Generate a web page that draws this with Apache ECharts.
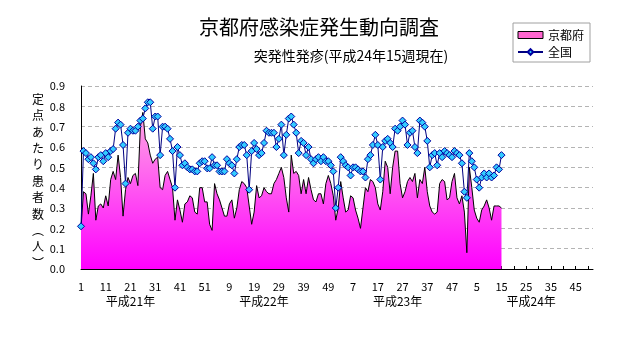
<!DOCTYPE html>
<html><head><meta charset="utf-8">
<script src="https://cdn.jsdelivr.net/npm/echarts@6/dist/echarts.min.js"></script>
<style>html,body{margin:0;padding:0;background:#fff}#c{width:632px;height:348px}</style>
</head><body><div id="c"></div>
<script>
const titleText = "京都府感染症発生動向調査";
const subtitleText = "突発性発疹(平成24年15週現在)";
const yAxisTitle = "定点あたり患者数︵人︶";
const seriesNames = ["京都府", "全国"];
const weeksPerYear = [52, 52, 52, 52];
const yearLabels = ["平成21年", "平成22年", "平成23年", "平成24年"];
const yearLabelIndex = [20, 74, 128, 182];

const kyoto = [
0.20,0.38,0.37,0.27,0.36,0.47,0.24,0.31,0.32,0.30,
0.36,0.31,0.44,0.48,0.44,0.56,0.45,0.26,0.39,0.45,
0.42,0.46,0.47,0.41,0.70,0.77,0.64,0.62,0.56,0.52,
0.54,0.55,0.40,0.39,0.46,0.48,0.44,0.40,0.24,0.34,
0.29,0.23,0.32,0.33,0.36,0.35,0.28,0.27,0.40,0.40,
0.33,0.33,0.22,0.19,0.42,0.37,0.34,0.30,0.26,0.26,
0.32,0.34,0.25,0.30,0.39,0.43,0.42,0.40,0.31,0.22,
0.28,0.41,0.35,0.36,0.40,0.38,0.37,0.37,0.42,0.44,
0.47,0.50,0.45,0.35,0.28,0.56,0.47,0.48,0.46,0.37,
0.44,0.37,0.45,0.39,0.34,0.33,0.37,0.37,0.32,0.42,
0.46,0.42,0.36,0.24,0.30,0.43,0.35,0.28,0.29,0.36,
0.35,0.29,0.25,0.20,0.30,0.40,0.38,0.44,0.43,0.40,
0.32,0.29,0.38,0.53,0.50,0.37,0.50,0.58,0.58,0.42,
0.35,0.38,0.43,0.45,0.43,0.47,0.35,0.44,0.42,0.50,
0.38,0.31,0.28,0.27,0.28,0.42,0.44,0.43,0.34,0.35,
0.43,0.47,0.35,0.32,0.36,0.28,0.08,0.50,0.40,0.29,
0.25,0.23,0.29,0.31,0.34,0.30,0.24,0.31,0.31,0.31,
0.30
];
const zenkoku = [
0.21,0.58,0.57,0.54,0.55,0.52,0.49,0.55,0.56,0.53,
0.57,0.55,0.58,0.59,0.69,0.72,0.71,0.61,0.42,0.67,
0.69,0.68,0.68,0.70,0.73,0.74,0.79,0.82,0.82,0.69,
0.75,0.75,0.56,0.70,0.70,0.69,0.64,0.58,0.40,0.60,
0.56,0.51,0.52,0.50,0.49,0.49,0.48,0.48,0.52,0.53,
0.53,0.495,0.495,0.55,0.51,0.51,0.48,0.48,0.48,0.54,
0.52,0.51,0.47,0.54,0.60,0.61,0.61,0.56,0.39,0.58,
0.62,0.59,0.56,0.57,0.62,0.68,0.67,0.67,0.67,0.60,
0.64,0.71,0.56,0.66,0.74,0.75,0.71,0.67,0.57,0.63,
0.62,0.56,0.60,0.54,0.52,0.54,0.55,0.53,0.55,0.53,
0.53,0.51,0.48,0.30,0.40,0.55,0.53,0.51,0.50,0.46,
0.50,0.50,0.49,0.48,0.48,0.45,0.54,0.56,0.61,0.66,
0.61,0.44,0.60,0.63,0.64,0.62,0.60,0.69,0.68,0.70,
0.73,0.71,0.61,0.67,0.68,0.60,0.57,0.73,0.72,0.70,
0.63,0.50,0.56,0.57,0.51,0.57,0.55,0.58,0.57,0.56,
0.55,0.58,0.57,0.56,0.52,0.38,0.35,0.57,0.53,0.50,
0.44,0.40,0.45,0.47,0.45,0.47,0.45,0.46,0.50,0.49,
0.56
];

const categories = [];
weeksPerYear.forEach(n => { for (let w = 1; w <= n; w++) categories.push(String(w)); });
const yearCats = categories.map((c, i) => {
  const k = yearLabelIndex.indexOf(i);
  return k >= 0 ? yearLabels[k] : '';
});

const FONT = '"Noto Sans CJK JP", "MS Gothic", sans-serif';
const chart = echarts.init(document.getElementById('c'), null, {renderer: 'canvas'});
chart.setOption({
  animation: false,
  backgroundColor: '#fff',
  textStyle: {fontFamily: FONT, color: '#000'},
  title: [
    {text: titleText, left: 314, textAlign: 'center', top: 12,
     textStyle: {fontSize: 20, fontWeight: 'normal', color: '#000', fontFamily: FONT}},
    {text: subtitleText, left: 346, textAlign: 'center', top: 44,
     textStyle: {fontSize: 14, fontWeight: 'normal', color: '#000', fontFamily: FONT}}
  ],
  legend: {
    orient: 'vertical', left: 513, top: 23,
    padding: [6, 6, 4, 4], itemGap: 5, itemWidth: 25, itemHeight: 7,
    borderColor: '#a0a0a0', borderWidth: 1,
    textStyle: {fontSize: 12, color: '#000', fontFamily: FONT},
    data: [
      {name: seriesNames[0], icon: 'rect', itemStyle: {color: '#FF66D0', borderColor: '#000', borderWidth: 1}},
      {name: seriesNames[1]}
    ]
  },
  grid: {left: 81, right: 39, top: 86, bottom: 79, containLabel: false},
  xAxis: [{
    type: 'category', data: categories, boundaryGap: false,
    axisLine: {lineStyle: {color: '#000', width: 1}},
    axisTick: {show: true, inside: true, length: 3, interval: 4, lineStyle: {color: '#000'}},
    axisLabel: {interval: 9, margin: 12, fontSize: 11, color: '#000', fontFamily: FONT},
    splitLine: {show: false}
  }, {
    type: 'category', data: yearCats, boundaryGap: false, position: 'bottom',
    axisLine: {show: false}, axisTick: {show: false},
    axisLabel: {interval: (i) => yearLabelIndex.indexOf(i) >= 0, margin: 26, fontSize: 12, color: '#000', fontFamily: FONT},
    splitLine: {show: false}
  }],
  yAxis: {
    type: 'value', min: 0, max: 0.9, interval: 0.1,
    axisLine: {show: true, lineStyle: {color: '#000', width: 1}},
    axisTick: {show: false},
    axisLabel: {formatter: v => v.toFixed(1), margin: 16, fontSize: 11, color: '#000', fontFamily: FONT},
    splitLine: {show: true, lineStyle: {color: '#b4b4b4', type: [4, 3], width: 1}}
  },
  graphic: [{
    type: 'text', x: 38, y: 91,
    style: {text: yAxisTitle.split('').join('\n'), font: '12px ' + FONT, lineHeight: 16.4, align: 'center', fill: '#000'}
  }],
  series: [{
    name: seriesNames[0], type: 'line', data: kyoto, symbol: 'none', z: 2,
    lineStyle: {color: '#000', width: 1},
    itemStyle: {color: '#FF66D0'},
    areaStyle: {opacity: 1, color: new echarts.graphic.LinearGradient(0, 0, 0, 1, [
      {offset: 0, color: '#FFA8E4'}, {offset: 1, color: '#FF00FF'}])}
  }, {
    name: seriesNames[1], type: 'line', data: zenkoku, z: 3,
    symbol: 'diamond', symbolSize: 7, showAllSymbol: true,
    lineStyle: {color: '#000080', width: 1},
    itemStyle: {color: '#33CCFF', borderColor: '#0000A0', borderWidth: 1}
  }]
});
</script></body></html>
